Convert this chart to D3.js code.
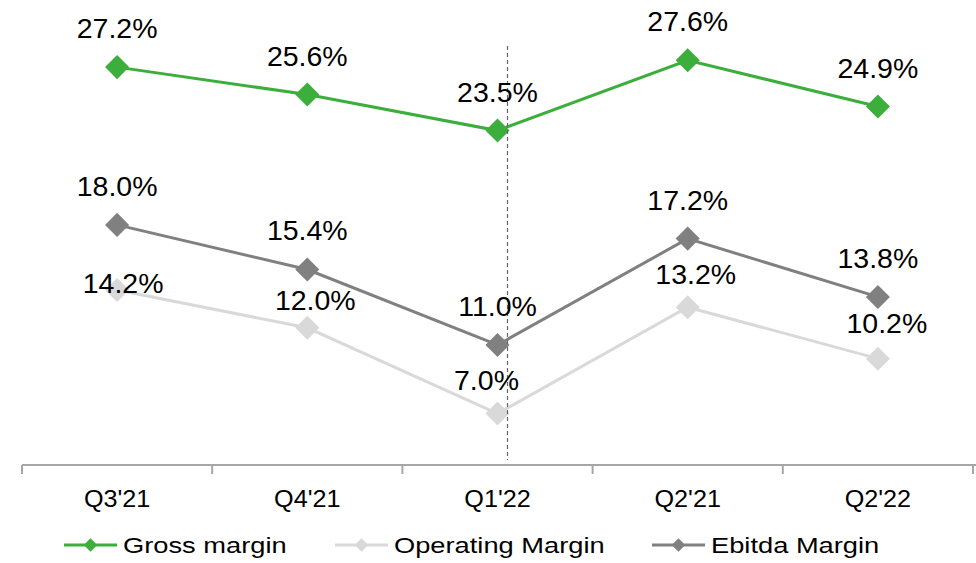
<!DOCTYPE html>
<html>
<head>
<meta charset="utf-8">
<script src="https://cdn.jsdelivr.net/npm/d3@7"></script>
<style>
  html, body { margin: 0; padding: 0; background: #ffffff; }
  svg { display: block; font-family: "Liberation Sans", Arial, sans-serif; }
</style>
</head>
<body>
<svg id="chart" width="976" height="563"></svg>
<script>
// Quarter labels along the x axis
const quarters = ["Q3'21", "Q4'21", "Q1'22", "Q2'21", "Q2'22"];

// Margin series, in percent
const grossMargin = [27.2, 25.6, 23.5, 27.6, 24.9];
const operatingMargin = [14.2, 12.0, 7.0, 13.2, 10.2];
const ebitdaMargin = [18.0, 15.4, 11.0, 17.2, 13.8];

const seriesNames = ["Gross margin", "Operating Margin", "Ebitda Margin"];

// Label nudges for the operating series, which sits close to the others
const operatingLabelDx = [6, 8, -11, 8, 9];
const operatingLabelDy = [3, -18, -24, -23, -26];

const colors = {
  "Gross margin": "#3cae3c",
  "Operating Margin": "#d9d9d9",
  "Ebitda Margin": "#808080"
};

const series = [
  { name: "Gross margin", values: grossMargin },
  { name: "Ebitda Margin", values: ebitdaMargin },
  { name: "Operating Margin", values: operatingMargin }
];

const svg = d3.select("#chart");

const x = d3.scaleBand().domain(quarters).range([22, 973]).padding(0);
const y = d3.scaleLinear().domain([4, 30]).range([465, 19.1]);
const cx = q => x(q) + x.bandwidth() / 2;

// Axis: horizontal baseline with downward ticks at the band edges
const axisG = svg.append("g").attr("transform", "translate(0,465)");
axisG.append("line")
  .attr("x1", 22).attr("x2", 976).attr("y1", 0).attr("y2", 0)
  .attr("stroke", "#a6a6a6").attr("stroke-width", 2);
const edges = quarters.map(q => x(q)).concat([x.range()[1]]);
axisG.selectAll("line.tick").data(edges).join("line")
  .attr("class", "tick")
  .attr("x1", d => d).attr("x2", d => d)
  .attr("y1", 0).attr("y2", 9)
  .attr("stroke", "#a6a6a6").attr("stroke-width", 2);
axisG.selectAll("text").data(quarters).join("text")
  .attr("transform", d => `translate(${cx(d)},42) scale(1.05,1)`)
  .attr("text-anchor", "middle")
  .attr("font-size", 24)
  .attr("fill", "#000")
  .text(d => d);

// Lines
const line = d3.line()
  .x((d, i) => cx(quarters[i]))
  .y(d => y(d));

const diamond = d3.symbol().type(d3.symbolSquare).size(290);

const plotG = svg.append("g");
series.forEach(s => {
  plotG.append("path")
    .datum(s.values)
    .attr("d", line)
    .attr("fill", "none")
    .attr("stroke", colors[s.name])
    .attr("stroke-width", 3);
});
series.forEach(s => {
  plotG.append("g").selectAll("path").data(s.values).join("path")
    .attr("d", diamond)
    .attr("transform", (d, i) => `translate(${cx(quarters[i])},${y(d)}) rotate(45)`)
    .attr("fill", colors[s.name]);
});

// Dashed divider
svg.append("line")
  .attr("x1", 507.5).attr("x2", 507.5)
  .attr("y1", 46).attr("y2", 460)
  .attr("stroke", "#666").attr("stroke-width", 1.2)
  .attr("stroke-dasharray", "4,3");

// Value labels
const labelG = svg.append("g");
series.forEach(s => {
  labelG.append("g").selectAll("text").data(s.values).join("text")
    .attr("transform", (d, i) => {
      const dx = s.name === "Operating Margin" ? operatingLabelDx[i] : 0;
      const dy = s.name === "Operating Margin" ? operatingLabelDy[i] : -29;
      return `translate(${cx(quarters[i]) + dx},${y(d) + dy})`;
    })
    .attr("text-anchor", "middle")
    .attr("font-size", 28.5)
    .attr("fill", "#000")
    .text(d => d.toFixed(1) + "%");
});

// Legend
const legendX = { "Gross margin": 64, "Operating Margin": 335, "Ebitda Margin": 652 };
const legendG = svg.append("g").attr("transform", "translate(0,545)");
seriesNames.forEach(name => {
  const g = legendG.append("g").attr("transform", `translate(${legendX[name]},0)`);
  g.append("line").attr("x1", 0).attr("x2", 53).attr("y1", 0).attr("y2", 0)
    .attr("stroke", colors[name]).attr("stroke-width", 3);
  g.append("path")
    .attr("d", d3.symbol().type(d3.symbolSquare).size(90)())
    .attr("transform", "translate(26.5,0) rotate(45)")
    .attr("fill", colors[name]);
  g.append("text")
    .attr("transform", "translate(59,8) scale(1.24,1)")
    .attr("font-size", 22)
    .attr("fill", "#000")
    .text(name);
});
</script>
</body>
</html>
